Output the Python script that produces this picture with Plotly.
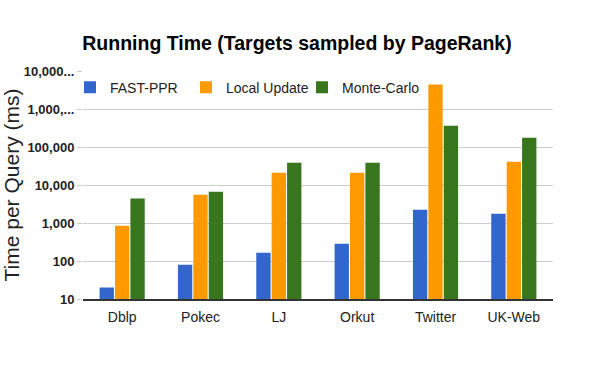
import plotly.graph_objects as go

# running time per query (ms)
datasets = ["Dblp", "Pokec", "LJ", "Orkut", "Twitter", "UK-Web"]
fast_ppr = [20, 80, 165, 285, 2240, 1760]
local_update = [850, 5560, 21000, 21000, 4400000, 41000]
monte_carlo = [4400, 6650, 38600, 38600, 363000, 176000]

tick_vals = [10, 100, 1000, 10000, 100000, 1000000, 10000000]
tick_text = ["10", "100", "1,000", "10,000", "100,000", "1,000,...", "10,000..."]

series = [
    ("FAST-PPR", fast_ppr, "#3366cc"),
    ("Local Update", local_update, "#ff9900"),
    ("Monte-Carlo", monte_carlo, "#38761d"),
]

data = [go.Bar(x=datasets, y=vals, name=name, marker=dict(color=col, line=dict(width=0)))
        for name, vals, col in series]

layout = go.Layout(
    width=600, height=371,
    font=dict(family="Liberation Sans, Arial, sans-serif", color="#222222"),
    title=dict(text="Running Time (Targets sampled by PageRank)",
               font=dict(size=19.5, weight="bold", color="#000000"),
               x=0.495, xanchor="center", y=0.884, yanchor="middle"),
    margin=dict(l=83, r=47, t=71, b=72, autoexpand=False),
    paper_bgcolor="white", plot_bgcolor="white",
    barmode="group", bargap=0.41, bargroupgap=0.07,
    legend=dict(orientation="h", x=0, xanchor="left", y=0.927, yanchor="middle",
                itemwidth=30, indentation=-13, entrywidth=84,
                font=dict(size=14, color="#222222"), bgcolor="rgba(0,0,0,0)"),
    xaxis=dict(tickfont=dict(size=14, color="#222222"), showline=True,
               linecolor="#333333", linewidth=1.5, ticks="", ticklabelstandoff=4,
               automargin=False),
    yaxis=dict(type="log", range=[1, 7], tickvals=tick_vals, ticktext=tick_text,
               tickfont=dict(size=13, weight="bold", color="#222222"),
               gridcolor="#cccccc", zeroline=False, ticks="outside", ticklen=5,
               tickcolor="#cccccc", automargin=False,
               title=dict(text="Time per Query (ms)", font=dict(size=21, color="#222222"),
                          standoff=6)),
)

fig = go.Figure(data=data, layout=layout)
# drop the page's default 8px body margin so the chart sits at the window corner
fig.write_html("out.html", config=dict(displayModeBar=False),
               post_script="document.body.style.margin='0';")
